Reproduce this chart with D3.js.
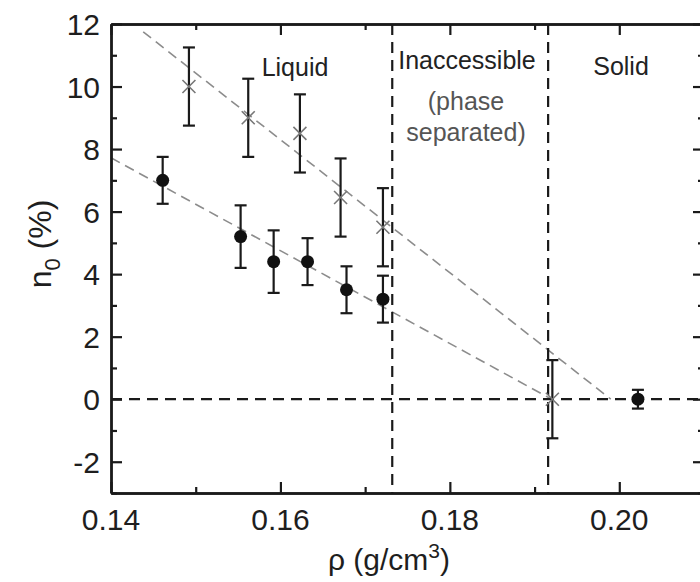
<!DOCTYPE html>
<html lang="en">

<head>
    <meta charset="UTF-8">
    <title>Condensate fraction vs density</title>
    <style>
        body { margin: 0; background: #fff; }
        svg text { font-family: "Liberation Sans", Arial, Helvetica, sans-serif; }
    </style>
</head>

<body>
    <div id="content"></div>
    <script src="https://d3js.org/d3.v7.min.js"></script>
    <script>
        // liquid / solid points (filled circles)
        var circleRho = [0.1461, 0.1553, 0.1592, 0.1632, 0.1678, 0.1721, 0.2022];
        var circleN0 = [7.0, 5.2, 4.4, 4.4, 3.5, 3.2, 0.0];
        var circleErr = [0.75, 1.0, 1.0, 0.75, 0.75, 0.75, 0.3];

        // second data set (crosses)
        var crossRho = [0.1492, 0.1562, 0.1623, 0.1671, 0.1721, 0.1921];
        var crossN0 = [10.0, 9.0, 8.5, 6.45, 5.5, 0.0];
        var crossErr = [1.25, 1.25, 1.25, 1.25, 1.25, 1.25];

        // linear fits, [start, end] as [rho, n0]
        var fitCross = [[0.1438, 11.75], [0.1990, 0.0]];
        var fitCircle = [[0.1400, 7.72], [0.1920, 0.0]];

        // phase boundaries
        var boundaries = [0.1732, 0.1916];

        var xMajor = [0.14, 0.16, 0.18, 0.20];
        var xMinor = [0.15, 0.17, 0.19];
        var yMajor = [-2, 0, 2, 4, 6, 8, 10, 12];
        var yMinor = [-3, -1, 1, 3, 5, 7, 9, 11];

        var width = 700, height = 582;

        var svg = d3.select("#content")
            .append("svg")
            .attr("width", width)
            .attr("height", height);

        var x = d3.scaleLinear().domain([0.14, 0.21]).range([111, 704]);
        var y = d3.scaleLinear().domain([-3, 12]).range([493, 24]);

        var ink = "#1a1a1a";

        // fit lines
        var line = d3.line()
            .x(function (d) { return x(d[0]); })
            .y(function (d) { return y(d[1]); });

        [fitCross, fitCircle].forEach(function (f) {
            svg.append("path")
                .attr("d", line(f))
                .attr("fill", "none")
                .attr("stroke", "#8c8c8c")
                .attr("stroke-width", 1.6)
                .attr("stroke-dasharray", "10,6");
        });

        // dashed reference lines
        svg.append("line")
            .attr("x1", x(0.14)).attr("x2", x(0.21))
            .attr("y1", y(0)).attr("y2", y(0))
            .attr("stroke", ink).attr("stroke-width", 2.2)
            .attr("stroke-dasharray", "11,7");

        svg.selectAll(".boundary")
            .data(boundaries)
            .enter()
            .append("line")
            .attr("class", "boundary")
            .attr("x1", function (d) { return x(d); })
            .attr("x2", function (d) { return x(d); })
            .attr("y1", y(12)).attr("y2", y(-3))
            .attr("stroke", ink).attr("stroke-width", 2.2)
            .attr("stroke-dasharray", "11,7");

        // axes (frame with inward ticks)
        var axes = [
            { axis: d3.axisBottom(x), t: "translate(0," + y(-3) + ")", vals: xMajor, minor: xMinor },
            { axis: d3.axisTop(x), t: "translate(0," + y(12) + ")", vals: xMajor, minor: xMinor },
            { axis: d3.axisLeft(y), t: "translate(" + x(0.14) + ",0)", vals: yMajor, minor: yMinor },
            { axis: d3.axisRight(y), t: "translate(" + x(0.21) + ",0)", vals: yMajor, minor: yMinor }
        ];

        axes.forEach(function (a) {
            var g = svg.append("g").attr("transform", a.t);
            g.call(a.axis.tickValues(a.minor).tickSize(-6).tickSizeOuter(0).tickFormat(""));
            var g2 = svg.append("g").attr("transform", a.t);
            g2.call(a.axis.tickValues(a.vals).tickSize(-11).tickSizeOuter(0).tickFormat(""));
            [g, g2].forEach(function (gg) {
                gg.select(".domain").attr("stroke", ink).attr("stroke-width", 2.4);
                gg.selectAll(".tick line").attr("stroke", ink).attr("stroke-width", 2.2);
            });
        });

        // tick labels
        svg.selectAll(".xlab")
            .data(xMajor)
            .enter()
            .append("text")
            .attr("class", "xlab")
            .attr("x", function (d) { return x(d); })
            .attr("y", 530)
            .attr("text-anchor", "middle")
            .style("font-size", "30px")
            .attr("fill", "#1e1e1e")
            .text(function (d) { return d3.format(".2f")(d); });

        svg.selectAll(".ylab")
            .data(yMajor)
            .enter()
            .append("text")
            .attr("class", "ylab")
            .attr("x", 100)
            .attr("y", function (d) { return y(d) + 11; })
            .attr("text-anchor", "end")
            .style("font-size", "30px")
            .attr("fill", "#1e1e1e")
            .text(function (d) { return d; });

        // axis titles
        var xt = svg.append("text")
            .attr("x", 389).attr("y", 570)
            .attr("text-anchor", "middle")
            .style("font-size", "30px")
            .attr("fill", "#1e1e1e");
        xt.append("tspan").text("ρ (g/cm");
        xt.append("tspan").attr("dy", -12).style("font-size", "21px").text("3");
        xt.append("tspan").attr("dy", 12).text(")");

        var yt = svg.append("text")
            .attr("transform", "translate(51,244) rotate(-90)")
            .attr("text-anchor", "middle")
            .style("font-size", "32px")
            .attr("fill", "#1e1e1e");
        yt.append("tspan").text("n");
        yt.append("tspan").attr("dy", 9).style("font-size", "22px").text("0");
        yt.append("tspan").attr("dy", -9).text(" (%)");

        // region labels
        var notes = [
            { text: "Liquid", px: 295, py: 76, color: "#222" },
            { text: "Inaccessible", px: 467, py: 69, color: "#222" },
            { text: "(phase", px: 466, py: 110, color: "#555" },
            { text: "separated)", px: 466, py: 141, color: "#555" },
            { text: "Solid", px: 621, py: 75, color: "#222" }
        ];
        svg.selectAll(".note")
            .data(notes)
            .enter()
            .append("text")
            .attr("class", "note")
            .attr("x", function (d) { return d.px; })
            .attr("y", function (d) { return d.py; })
            .attr("text-anchor", "middle")
            .style("font-size", "25px")
            .attr("fill", function (d) { return d.color; })
            .text(function (d) { return d.text; });

        // error bars
        function errorBars(rho, n0, err, cls) {
            var data = rho.map(function (r, i) { return { r: r, n: n0[i], e: err[i] }; });
            var g = svg.selectAll("." + cls)
                .data(data)
                .enter()
                .append("g")
                .attr("class", cls)
                .attr("stroke", ink)
                .attr("stroke-width", 2.2);
            g.append("line")
                .attr("x1", function (d) { return x(d.r); })
                .attr("x2", function (d) { return x(d.r); })
                .attr("y1", function (d) { return y(d.n + d.e); })
                .attr("y2", function (d) { return y(d.n - d.e); });
            [1, -1].forEach(function (s) {
                g.append("line")
                    .attr("x1", function (d) { return x(d.r) - 6; })
                    .attr("x2", function (d) { return x(d.r) + 6; })
                    .attr("y1", function (d) { return y(d.n + s * d.e); })
                    .attr("y2", function (d) { return y(d.n + s * d.e); });
            });
            return data;
        }

        var circles = errorBars(circleRho, circleN0, circleErr, "ebc");
        var crosses = errorBars(crossRho, crossN0, crossErr, "ebx");

        svg.selectAll(".dot")
            .data(circles)
            .enter()
            .append("circle")
            .attr("class", "dot")
            .attr("cx", function (d) { return x(d.r); })
            .attr("cy", function (d) { return y(d.n); })
            .attr("r", 6.5)
            .attr("fill", "#111");

        svg.selectAll(".cross")
            .data(crosses)
            .enter()
            .append("path")
            .attr("class", "cross")
            .attr("d", function (d) {
                var cx = x(d.r), cy = y(d.n), s = 6.5;
                return "M" + (cx - s) + "," + (cy - s) + "L" + (cx + s) + "," + (cy + s) +
                    "M" + (cx - s) + "," + (cy + s) + "L" + (cx + s) + "," + (cy - s);
            })
            .attr("stroke", "#777")
            .attr("stroke-width", 1.6)
            .attr("fill", "none");
    </script>
</body>

</html>
